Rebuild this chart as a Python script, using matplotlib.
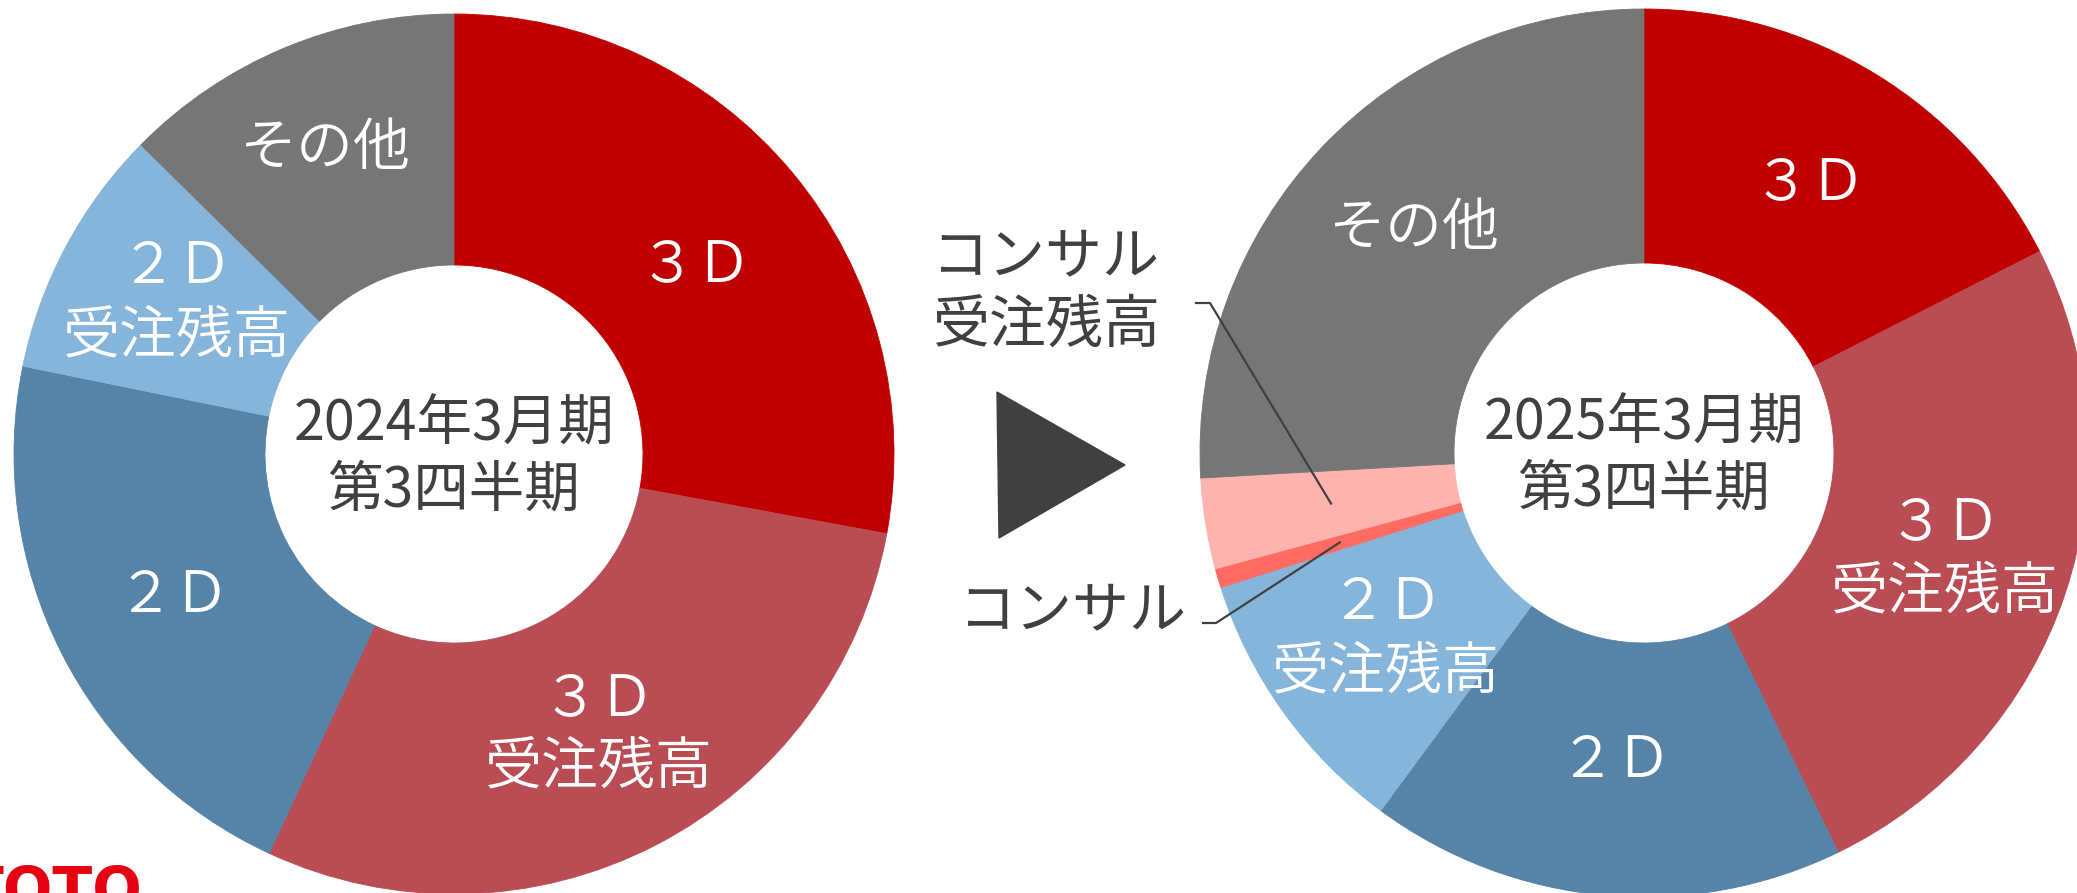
import numpy as np
import matplotlib
matplotlib.use("Agg")
import matplotlib.pyplot as plt
from matplotlib.patches import Polygon

plt.rcParams['font.family'] = ['Noto Sans CJK JP', 'DejaVu Sans']

# ---------------- data ----------------
left_title = "2024年3月期\n第3四半期"
left_labels = ["３Ｄ", "３Ｄ\n受注残高", "２Ｄ", "２Ｄ\n受注残高", "その他"]
left_values = [27.9, 29.0, 21.3, 9.2, 12.6]
left_colors = ['#C00000', '#BA4C54', '#5584A8', '#85B5DA', '#767676']

right_title = "2025年3月期\n第3四半期"
right_labels = ["３Ｄ", "３Ｄ\n受注残高", "２Ｄ", "２Ｄ\n受注残高", "コンサル", "コンサル\n受注残高", "その他"]
right_values = [17.5, 25.3, 17.3, 10.0, 0.7, 3.3, 25.9]
right_colors = ['#C00000', '#BA4C54', '#5584A8', '#85B5DA', '#FF6B60', '#FFB3AE', '#767676']
outside_labels = {"コンサル", "コンサル\n受注残高"}

# ---------------- layout ----------------
W, H = 2077, 893
fig = plt.figure(figsize=(W / 100, H / 100), dpi=100)
ax = fig.add_axes([0, 0, 1, 1])

def py(y):
    return H - y

DARK = '#404040'
FS = 41
LABEL_WEIGHT = 350
TITLE_WEIGHT = 'normal'

# small pixel nudges of in-ring labels (dx, dy downwards)
left_nudge = {"３Ｄ": (0, 12), "その他": (-8, -15), "２Ｄ\n受注残高": (0, -4)}
right_nudge = {"２Ｄ": (0, -8), "３Ｄ\n受注残高": (0, 4), "その他": (0, -6)}

def donut(values, labels, colors, center, R, r, title, nudge):
    cx, cy = center
    wedges, _ = ax.pie(values, colors=colors, startangle=90, counterclock=False,
                       radius=R, center=(cx, py(cy)),
                       wedgeprops=dict(width=R - r, linewidth=0.6, antialiased=True))
    for w, c in zip(wedges, colors):
        w.set_edgecolor(c)
    mids = {}
    for w, lab in zip(wedges, labels):
        ang = np.deg2rad((w.theta1 + w.theta2) / 2)
        rm = (R + r) / 2
        pos = (cx + rm * np.cos(ang), py(cy) + rm * np.sin(ang))
        mids[lab] = pos
        if lab not in outside_labels:
            dx, dy = nudge.get(lab, (0, 0))
            ax.text(pos[0] + dx, pos[1] - dy, lab, color='white', fontsize=FS,
                    fontweight=LABEL_WEIGHT, ha='center', va='center', linespacing=1.22)
    ax.text(cx, py(cy) - 4, title, color=DARK, fontsize=FS - 1, fontweight=TITLE_WEIGHT,
            ha='center', va='center', linespacing=1.18)
    return mids

donut(left_values, left_labels, left_colors, (454, 454), 440, 189, left_title, left_nudge)
mids = donut(right_values, right_labels, right_colors, (1644, 453), 444, 190, right_title, right_nudge)

# outside labels with leader lines
ax.text(1046, py(291), "コンサル\n受注残高", color=DARK, fontsize=FS, fontweight=TITLE_WEIGHT,
        ha='center', va='center', linespacing=1.22)
ex, ey = mids["コンサル\n受注残高"]
ax.plot([1196, 1210, ex], [py(303), py(303), ey], color=DARK, lw=1.6)

ax.text(1073, py(611), "コンサル", color=DARK, fontsize=FS, fontweight=TITLE_WEIGHT,
        ha='center', va='center')
ex, ey = mids["コンサル"]
ax.plot([1203, 1216, ex], [py(623), py(623), ey], color=DARK, lw=1.6)

# arrow triangle
ax.add_patch(Polygon([(997, py(392)), (1125, py(465)), (999, py(538))],
                     closed=True, facecolor=DARK, edgecolor=DARK))

# partial logo at bottom-left (cut off by the edge, as in the reference)
ax.text(142, py(909), "TOTO", color='#E60012', fontsize=42, fontweight='bold',
        family='DejaVu Sans', ha='right', va='baseline')

ax.set_xlim(0, W)
ax.set_ylim(0, H)
ax.set_aspect('auto')
ax.axis('off')

fig.savefig("out.png", dpi=100, facecolor='white')
